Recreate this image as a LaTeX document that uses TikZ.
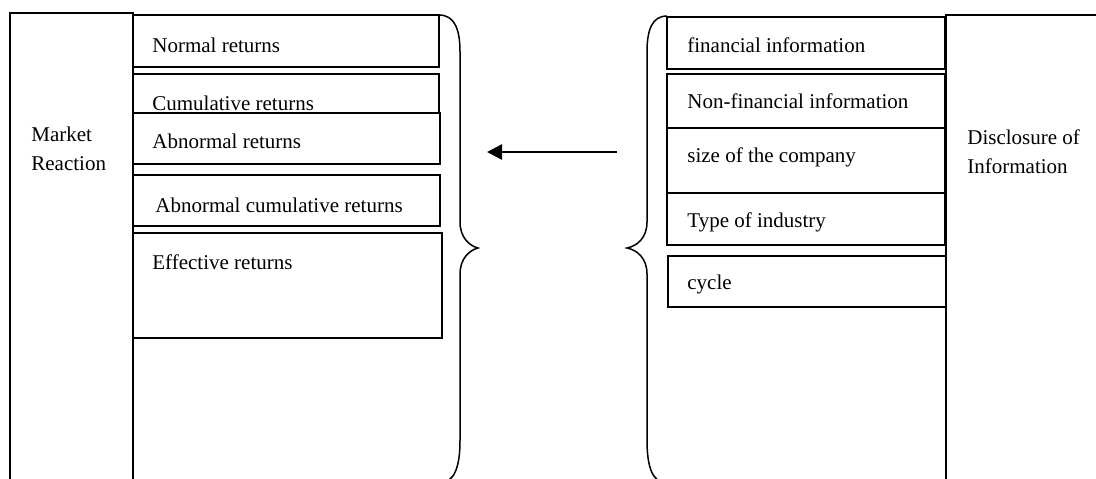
\documentclass[tikz,border=0pt]{standalone}
\usepackage{fontspec}
\setmainfont{Liberation Serif}
\usetikzlibrary{arrows.meta,fit}
\begin{document}
\begin{tikzpicture}[x=0.5pt,y=-0.5pt,
  box/.style={draw, line width=0.7pt, inner sep=0pt},
  txt/.style={anchor=west, inner sep=0pt, font=\fontsize{10.5}{14.5}\selectfont, align=left},
  brace/.style={draw, line width=0.75pt},
  arr/.style={line width=1.3pt, -{Triangle[length=7.5pt,width=7.5pt]}}]
\clip (0,0) rectangle (1096,478);
\fill[white] (0,0) rectangle (1096,478);
% left side
\node[box, fit={(10,13) (133,500)}] (mr) {};
\node[txt] (mrt) at (31,149) {Market\\Reaction};
\node[box, fit={(133,15) (439,67)}] (nr) {};
\node[txt] (nrt) at (152,45) {Normal returns};
\node[box, fit={(133,74) (439,120)}] (cr) {};
\node[txt] (crt) at (152,103) {Cumulative returns};
\node[box, fit={(133,113) (440,164)}, fill=white] (ar) {};
\node[txt] (art) at (152,141) {Abnormal returns};
\node[box, fit={(133,175) (440,226)}] (acr) {};
\node[txt] (acrt) at (155,205) {Abnormal cumulative returns};
\node[box, fit={(133,233) (442,338)}] (er) {};
\node[txt] (ert) at (152,262) {Effective returns};
% left brace
\draw[brace] (439,15) .. controls (455,15) and (460,30) .. (460,52) -- (460,222)
  .. controls (460,238) and (470,246) .. (478,248)
  .. controls (470,250) and (460,258) .. (460,274) -- (460,440)
  .. controls (460,466) and (455,483) .. (439,483);
% right side
\node[box, fit={(946,15) (1120,500)}] (di) {};
\node[txt] (dit) at (967,152) {Disclosure of\\Information};
\node[box, fit={(667,17) (945,69)}] (fi) {};
\node[txt] (fit) at (687,45) {financial information};
\node[box, fit={(667,74) (945,128)}] (nf) {};
\node[txt] (nft) at (687,101) {Non-financial information};
\node[box, fit={(667,128) (945,193)}] (sc) {};
\node[txt] (sct) at (687,157) {size of the company};
\node[box, fit={(667,193) (945,245)}] (ti) {};
\node[txt] (tit) at (687,222) {Type of industry};
\node[box, fit={(668,256) (946,307)}] (cy) {};
\node[txt] (cyt) at (687,284) {cycle};
% right brace
\draw[brace] (667,16) .. controls (652,16) and (647,30) .. (647,52) -- (647,222)
  .. controls (647,238) and (637,246) .. (627,248)
  .. controls (637,250) and (647,258) .. (647,274) -- (647,440)
  .. controls (647,466) and (652,483) .. (667,483);
% arrow
\coordinate (as) at (617,152);
\coordinate (ae) at (487,152);
\draw[arr] (as) -- (ae);
\end{tikzpicture}
\end{document}
